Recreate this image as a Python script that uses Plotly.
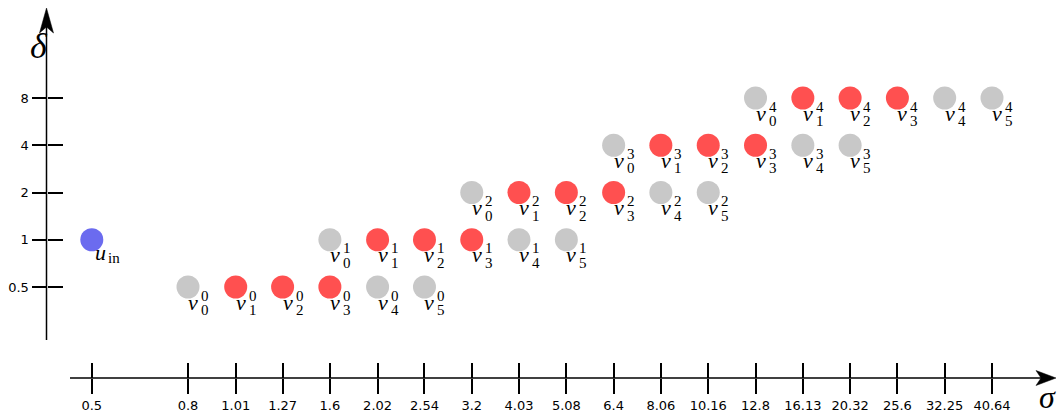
import math
import plotly.graph_objects as go

# ---- data ----
sigma_ticks = [0.5, 0.8, 1.01, 1.27, 1.6, 2.02, 2.54, 3.2, 4.03, 5.08, 6.4, 8.06,
               10.16, 12.8, 16.13, 20.32, 25.6, 32.25, 40.64]
sigma_labels = ["0.5", "0.8", "1.01", "1.27", "1.6", "2.02", "2.54", "3.2", "4.03", "5.08",
                "6.4", "8.06", "10.16", "12.8", "16.13", "20.32", "25.6", "32.25", "40.64"]
delta_ticks = [0.5, 1, 2, 4, 8]
delta_labels = ["0.5", "1", "2", "4", "8"]

level_delta = [0.5, 1, 2, 4, 8]
level0_sigma = [0.8, 1.01, 1.27, 1.6, 2.02, 2.54]
level1_sigma = [1.6, 2.02, 2.54, 3.2, 4.03, 5.08]
level2_sigma = [3.2, 4.03, 5.08, 6.4, 8.06, 10.16]
level3_sigma = [6.4, 8.06, 10.16, 12.8, 16.13, 20.32]
level4_sigma = [12.8, 16.13, 20.32, 25.6, 32.25, 40.64]
level_sigmas = [level0_sigma, level1_sigma, level2_sigma, level3_sigma, level4_sigma]
node_active = [False, True, True, True, False, False]

u_in_sigma = 0.5
u_in_delta = 1

GRAY = "#c8c8c8"
RED = "#ff5050"
BLUE = "#6b6bef"

W, H = 1058, 415
ML, MR, MT, MB = 20, 18, 10, 37


def px(xp):
    return (xp - ML) / (W - ML - MR)


def py(yp):
    return (H - MB - yp) / (H - MT - MB)


fig = go.Figure()

xs, ys, cs = [], [], []
for lvl, sig in enumerate(level_sigmas):
    for j, s in enumerate(sig):
        xs.append(s)
        ys.append(level_delta[lvl])
        cs.append(RED if node_active[j] else GRAY)

fig.add_trace(go.Scatter(x=xs, y=ys, mode="markers",
                         marker=dict(size=23, color=cs, line=dict(width=0)),
                         showlegend=False, hoverinfo="skip"))
fig.add_trace(go.Scatter(x=[u_in_sigma], y=[u_in_delta], mode="markers",
                         marker=dict(size=23, color=BLUE, line=dict(width=0)),
                         showlegend=False, hoverinfo="skip"))
# invisible trace on the overlay axes (inner half of tick marks)
fig.add_trace(go.Scatter(x=[sigma_ticks[1]], y=[delta_ticks[0]], xaxis="x2", yaxis="y2",
                         mode="markers", marker=dict(size=1, opacity=0),
                         showlegend=False, hoverinfo="skip"))

MAIN = dict(family="Liberation Serif", size=22, color="black")
SCRIPT = dict(family="Liberation Serif", size=15, color="black")

annotations = []
for lvl, sig in enumerate(level_sigmas):
    for j, s in enumerate(sig):
        lx, ly = math.log10(s), math.log10(level_delta[lvl])
        annotations.append(dict(x=lx, y=ly, xref="x", yref="y", text="<i>v</i>",
                                showarrow=False, font=MAIN, xshift=5, yshift=-15))
        annotations.append(dict(x=lx, y=ly, xref="x", yref="y", text=str(lvl),
                                showarrow=False, font=SCRIPT, xshift=17, yshift=-8.5))
        annotations.append(dict(x=lx, y=ly, xref="x", yref="y", text=str(j),
                                showarrow=False, font=SCRIPT, xshift=17, yshift=-23))
ux, uy = math.log10(u_in_sigma), math.log10(u_in_delta)
annotations.append(dict(x=ux, y=uy, xref="x", yref="y", text="<i>u</i>",
                        showarrow=False, font=MAIN, xshift=9, yshift=-13))
annotations.append(dict(x=ux, y=uy, xref="x", yref="y", text="in",
                        showarrow=False, font=SCRIPT, xanchor="left", xshift=14, yshift=-18))
# axis titles
annotations.append(dict(x=px(28), y=py(24), xref="paper", yref="paper", text="<i>δ</i>",
                        showarrow=False, font=dict(family="Liberation Serif", size=36, color="black")))
annotations.append(dict(x=px(1058), y=py(378), xref="paper", yref="paper", text="<i>σ</i>",
                        showarrow=False, xanchor="right", yanchor="middle", yshift=-19,
                        font=dict(family="Liberation Serif", size=32, color="black")))

shapes = [
    dict(type="line", xref="paper", yref="paper", x0=px(46.5), y0=py(340), x1=px(46.5), y1=py(22),
         line=dict(color="black", width=1.5)),
    dict(type="path", xref="paper", yref="paper",
         path=f"M{px(46.5)},{py(8)} L{px(39.5)},{py(33)} L{px(46.5)},{py(27)} L{px(53.5)},{py(33)} Z",
         fillcolor="black", line=dict(color="black", width=0.5)),
    dict(type="line", xref="paper", yref="paper", x0=px(70), y0=py(378), x1=px(1044), y1=py(378),
         line=dict(color="black", width=1.5)),
    dict(type="path", xref="paper", yref="paper",
         path=f"M{px(1056)},{py(378)} L{px(1036)},{py(370.5)} L{px(1041)},{py(378)} L{px(1036)},{py(385.5)} Z",
         fillcolor="black", line=dict(color="black", width=0.5)),
]

XR = [-0.34728, 1.7108]
YR = [-0.6387, 1.46374]
TICKFONT = dict(family="DejaVu Sans", size=13, color="black")

fig.update_layout(
    template="none",
    width=W, height=H, margin=dict(l=ML, r=MR, t=MT, b=MB, autoexpand=False),
    paper_bgcolor="white", plot_bgcolor="white",
    xaxis=dict(type="log", range=XR, domain=[px(70), 1], anchor="free", position=0,
               tickvals=sigma_ticks, ticktext=sigma_labels, ticks="outside", ticklen=15,
               tickwidth=1.5, tickcolor="black", showgrid=False, zeroline=False,
               showline=False, tickfont=TICKFONT, automargin=False),
    xaxis2=dict(type="log", range=XR, domain=[px(70), 1], anchor="free", position=0,
                overlaying="x", tickvals=sigma_ticks, ticks="inside", ticklen=15,
                tickwidth=1.5, tickcolor="black", showticklabels=False, showgrid=False,
                zeroline=False, showline=False, automargin=False),
    yaxis=dict(type="log", range=YR, domain=[py(340), 1], anchor="free", position=px(46.5),
               tickvals=delta_ticks, ticktext=delta_labels, ticks="outside", ticklen=15,
               tickwidth=1.5, tickcolor="black", showgrid=False, zeroline=False,
               showline=False, tickfont=TICKFONT, automargin=False),
    yaxis2=dict(type="log", range=YR, domain=[py(340), 1], anchor="free", position=px(46.5),
                overlaying="y", tickvals=delta_ticks, ticks="inside", ticklen=15,
                tickwidth=1.5, tickcolor="black", showticklabels=False, showgrid=False,
                zeroline=False, showline=False, automargin=False),
    annotations=annotations, shapes=shapes,
)

fig.write_html("out.html", config={"displayModeBar": False},
               post_script="document.body.style.margin='0';document.body.style.overflow='hidden';")
